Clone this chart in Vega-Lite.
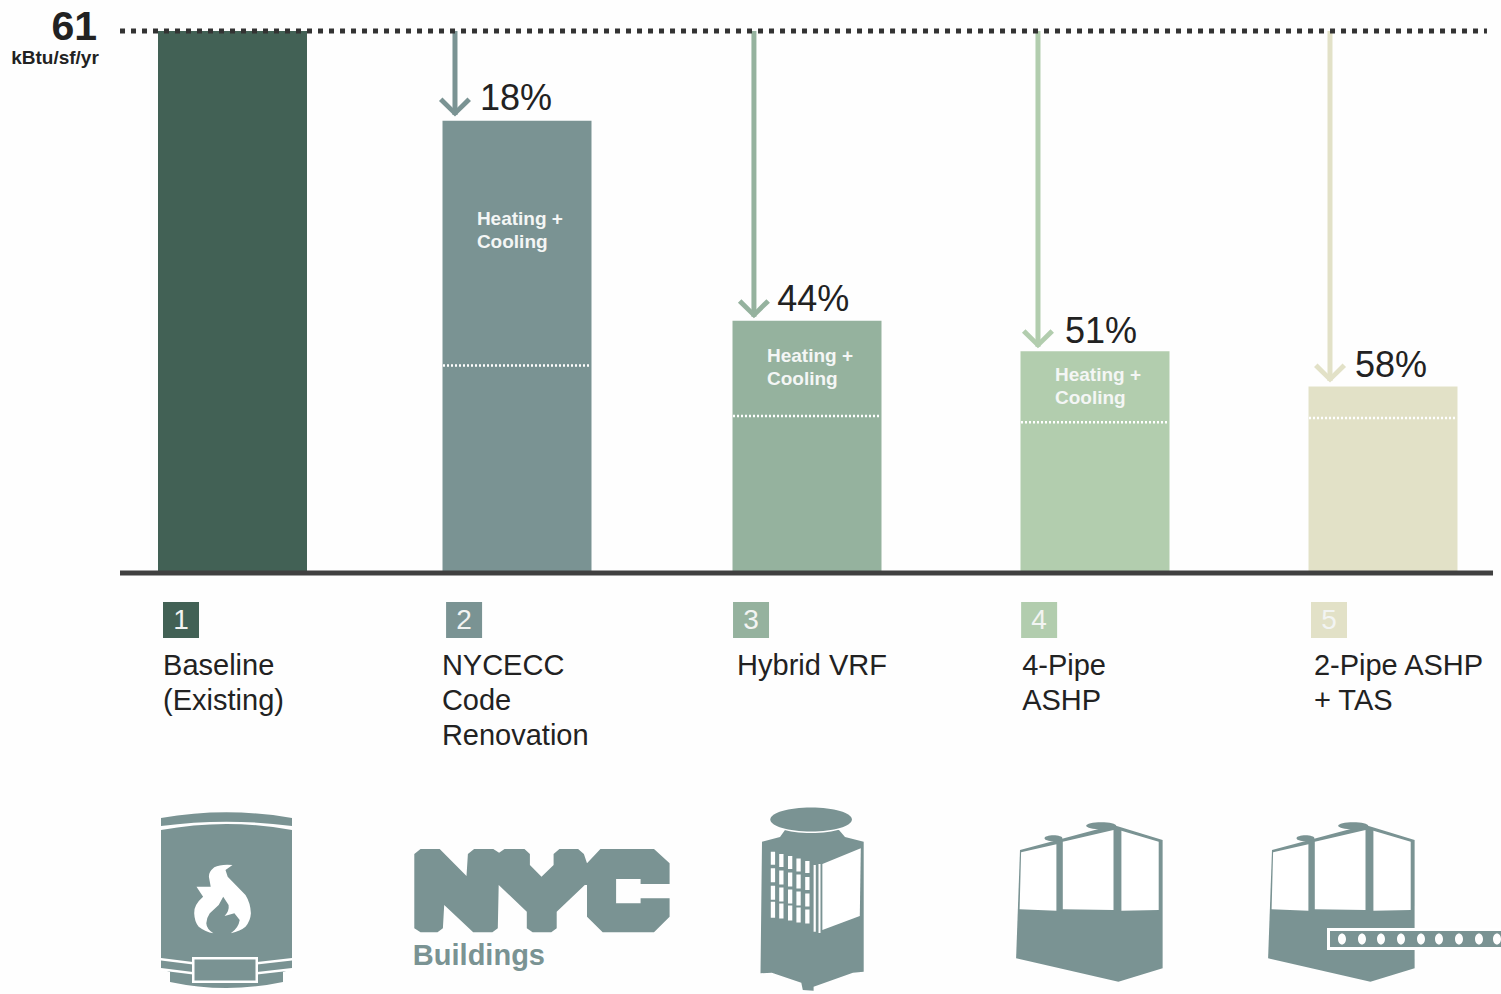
{
"$schema":"https://vega.github.io/schema/vega-lite/v6.json",
"width":1501,"height":994,"padding":0,"autosize":{"type":"none"},"background":"#fefefe",
"config":{"view":{"stroke":null},"font":"Liberation Sans","axis":{"disable":true},"legend":{"disable":true}},
"datasets":{
"options":[
{"option":1,"name":"Baseline\n(Existing)","eui":61,"name_at":0.756,"badge_at":0.819},
{"option":2,"name":"NYCECC\nCode\nRenovation","eui":50.9,"name_at":1.736,"badge_at":1.814},
{"option":3,"name":"Hybrid VRF","eui":28.4,"name_at":2.759,"badge_at":2.807},
{"option":4,"name":"4-Pipe\nASHP","eui":24.95,"name_at":3.747,"badge_at":3.806},
{"option":5,"name":"2-Pipe ASHP\n+ TAS","eui":21,"name_at":4.76,"badge_at":4.8125}
],
"savings":[
{"option":2,"label":"18%","arrow_at":1.782,"arrow_tip":51.55,"label_at":1.87,"label_height":52.1},
{"option":3,"label":"44%","arrow_at":2.817,"arrow_tip":28.85,"label_at":2.897,"label_height":29.5},
{"option":4,"label":"51%","arrow_at":3.802,"arrow_tip":25.47,"label_at":3.896,"label_height":25.9},
{"option":5,"label":"58%","arrow_at":4.816,"arrow_tip":21.6,"label_at":4.903,"label_height":22.06}
],
"split":[
{"option":2,"heating_cooling":23.35},
{"option":3,"heating_cooling":17.67},
{"option":4,"heating_cooling":16.96},
{"option":5,"heating_cooling":17.44}
],
"heat":[
{"label":"Heating +\nCooling","label_at":1.859,"label_height":39.2},
{"label":"Heating +\nCooling","label_at":2.862,"label_height":23.8},
{"label":"Heating +\nCooling","label_at":3.861,"label_height":21.6}
],
"reference":[{"level":61,"from":0.6046,"to":5.361,"value":"61","unit":"kBtu/sf/yr","base":0,"base_to":5.382}],
"icons":[
{"at":1,"level":-36.8,"part":"boiler_body","tone":"teal"},
{"at":1,"level":-36.8,"part":"boiler_cap","tone":"teal"},
{"at":1,"level":-36.8,"part":"boiler_bands","tone":"white"},
{"at":1,"level":-36.8,"part":"boiler_plate_outer","tone":"white"},
{"at":1,"level":-36.8,"part":"boiler_plate_inner","tone":"teal"},
{"at":1,"level":-36.8,"part":"flame","tone":"white"},
{"at":2,"level":-36.8,"part":"nyc","tone":"teal"},
{"at":3,"level":-36.8,"part":"tower_body","tone":"teal"},
{"at":3,"level":-36.8,"part":"tower_ring","tone":"white"},
{"at":3,"level":-36.8,"part":"tower_top","tone":"teal"},
{"at":3,"level":-36.8,"part":"tower_window","tone":"white"},
{"at":3,"level":-36.8,"part":"tower_vents","tone":"white"},
{"at":4,"level":-36.8,"part":"unit_body","tone":"teal"},
{"at":4,"level":-36.8,"part":"unit_fans","tone":"teal"},
{"at":4,"level":-36.8,"part":"unit_panels","tone":"white"},
{"at":4.875,"level":-36.8,"part":"unit_body","tone":"teal"},
{"at":4.875,"level":-36.8,"part":"unit_fans","tone":"teal"},
{"at":4.875,"level":-36.8,"part":"unit_panels","tone":"white"},
{"at":4.875,"level":-36.8,"part":"tas_outer","tone":"white"},
{"at":4.875,"level":-36.8,"part":"tas_inner","tone":"teal"},
{"at":4.875,"level":-36.8,"part":"tas_dots","tone":"white"}
]
},
"layer":[
{"data":{"name":"options"},
 "mark":{"type":"bar","width":149,"orient":"vertical"},
 "encoding":{
  "x":{"field":"option","type":"quantitative","scale":{"type":"linear","domain":[1,2,3,4,5],"range":[232.5,517,807,1095,1383],"nice":false,"zero":false,"padding":0}},
  "y":{"field":"eui","type":"quantitative","stack":null,"scale":{"type":"linear","domain":[-47.38,64.49],"range":[994,0],"nice":false,"zero":false,"padding":0}},
  "y2":{"datum":0},
  "color":{"field":"option","type":"nominal","legend":null,"scale":{"domain":[1,2,3,4,5],"range":["#426155","#7a9393","#95b29e","#b2cdae","#e2e1c7"]}}
 }},
{"data":{"name":"split"},
 "mark":{"type":"rule","xOffset":-74,"x2Offset":74,"stroke":"#ffffff","strokeWidth":2.5,"strokeDash":[2,2]},
 "encoding":{"x":{"field":"option","type":"quantitative"},"x2":{"field":"option"},"y":{"field":"heating_cooling","type":"quantitative"}}},
{"data":{"name":"heat"},
 "mark":{"type":"text","align":"left","baseline":"alphabetic","fontSize":19,"fontWeight":"bold","lineBreak":"\n","lineHeight":23,"fill":"#f4f6f5"},
 "encoding":{"x":{"field":"label_at","type":"quantitative"},"y":{"field":"label_height","type":"quantitative"},"text":{"field":"label"}}},
{"data":{"name":"savings"},
 "mark":{"type":"rule","strokeWidth":5},
 "encoding":{"x":{"field":"arrow_at","type":"quantitative"},"y":{"field":"arrow_tip","type":"quantitative"},"y2":{"datum":61},
  "color":{"field":"option","type":"nominal","legend":null}}},
{"data":{"name":"savings"},
 "mark":{"type":"point","filled":true,"opacity":1,"size":4,"strokeWidth":0,"shape":"M0 1.5 L-16 -14 L-12.5 -17.5 L0 -5 L12.5 -17.5 L16 -14 Z"},
 "encoding":{"x":{"field":"arrow_at","type":"quantitative"},"y":{"field":"arrow_tip","type":"quantitative"},
  "color":{"field":"option","type":"nominal","legend":null}}},
{"data":{"name":"savings"},
 "mark":{"type":"text","align":"left","baseline":"alphabetic","fontSize":36,"fill":"#222222"},
 "encoding":{"x":{"field":"label_at","type":"quantitative"},"y":{"field":"label_height","type":"quantitative"},"text":{"field":"label"}}},
{"data":{"name":"reference"},
 "mark":{"type":"rule","stroke":"#333333","strokeWidth":5,"strokeDash":[5,6]},
 "encoding":{"x":{"field":"from","type":"quantitative"},"x2":{"field":"to"},"y":{"field":"level","type":"quantitative"}}},
{"data":{"name":"reference"},
 "mark":{"type":"rule","stroke":"#404040","strokeWidth":5},
 "encoding":{"x":{"field":"from","type":"quantitative"},"x2":{"field":"base_to"},"y":{"field":"base","type":"quantitative"}}},
{"data":{"values":[{"value":"61","at":0.524,"height":59.99}]},
 "mark":{"type":"text","align":"right","baseline":"alphabetic","fontSize":41,"fontWeight":"bold","fill":"#222222"},
 "encoding":{"x":{"field":"at","type":"quantitative"},"y":{"field":"height","type":"quantitative"},"text":{"field":"value"}}},
{"data":{"values":[{"unit":"kBtu/sf/yr","at":0.376,"height":57.29}]},
 "mark":{"type":"text","align":"center","baseline":"alphabetic","fontSize":19,"fontWeight":"bold","fill":"#222222"},
 "encoding":{"x":{"field":"at","type":"quantitative"},"y":{"field":"height","type":"quantitative"},"text":{"field":"unit"}}},
{"data":{"name":"options"},
 "mark":{"type":"point","shape":"square","filled":true,"opacity":1,"size":1296,"strokeWidth":0},
 "encoding":{"x":{"field":"badge_at","type":"quantitative"},"y":{"datum":-5.29,"type":"quantitative"},
  "color":{"field":"option","type":"nominal","legend":null}}},
{"data":{"name":"options"},
 "mark":{"type":"text","align":"center","baseline":"middle","dy":1,"fontSize":28,"fill":"#f2f4f2"},
 "encoding":{"x":{"field":"badge_at","type":"quantitative"},"y":{"datum":-5.29,"type":"quantitative"},"text":{"field":"option"}}},
{"data":{"name":"options"},
 "mark":{"type":"text","align":"left","baseline":"alphabetic","fontSize":29,"lineBreak":"\n","lineHeight":35,"fill":"#222222"},
 "encoding":{"x":{"field":"name_at","type":"quantitative"},"y":{"datum":-11.48,"type":"quantitative"},"text":{"field":"name"}}},
{"data":{"name":"icons"},
 "mark":{"type":"point","filled":true,"opacity":1,"size":4,"strokeWidth":0},
 "encoding":{
  "x":{"field":"at","type":"quantitative"},
  "y":{"field":"level","type":"quantitative"},
  "fill":{"field":"tone","type":"nominal","legend":null,"scale":{"domain":["teal","white"],"range":["#7a9393","#ffffff"]}},
  "shape":{"field":"part","type":"nominal","legend":null,"scale":{
   "domain":["boiler_body","boiler_cap","boiler_bands","boiler_plate_outer","boiler_plate_inner","flame","nyc","tower_body","tower_ring","tower_top","tower_window","tower_vents","unit_body","unit_fans","unit_panels","tas_outer","tas_inner","tas_dots"],
   "range":[
   "M-71.5 -70 Q-6 -82 59.5 -70 L59.5 69 L50.5 72 L50.5 82 Q-6 94 -62.5 82 L-62.5 72 L-71.5 69 Z",
   "M-71.5 -82 Q-6 -93.4 59.5 -82 L59.5 -74 Q-6 -82.6 -71.5 -74 Z",
   "M-71.5 58 L-39.5 62 L-39.5 64.5 L-71.5 60.5 Z M59.5 58 L24.5 62 L24.5 64.5 L59.5 60.5 Z M-71.5 68 L-39.5 72 L-39.5 74.5 L-71.5 70.5 Z M59.5 68 L24.5 72 L24.5 74.5 L59.5 70.5 Z",
   "M-40.5 57 H25.5 V83 H-40.5 Z",
   "M-38 59.5 H23 V80.5 H-38 Z",
   "M0 -35 Q-12 -36 -18.2 -32.7 Q-24 -28 -23.6 -23.3 L-21.8 -13.3 L-36 -13.3 L-29.4 -3.3 Q-39 5 -38.3 13.3 Q-38 22 -33.8 26.7 Q-27 32 -19.1 33.3 Q-26 29 -26.2 23.3 Q-26 18 -22.7 13.3 L-13.8 5 L-9.3 -3.3 L-3.9 5 Q-3 11 -7.9 16 L1.9 13.3 L7.2 20 Q6 28 -1.7 33.3 Q8 31 13 26.7 Q18 21 18.4 13.3 Q18 3 13 -5 L-4.8 -23.3 L-7 -30 Z",
   "M-102.7 -46 L-96.5 -51 L-77.3 -51 L-50.5 -24 L-49.1 -46 L-42.9 -51 L-23.7 -51 L-17.9 -47.3 L-12.5 -51 L7.5 -51 L12.9 -46 L12.9 -35 L24.5 -23.3 L36.6 -35 L36.6 -46 L42.4 -51 L61.1 -51 L66.9 -46 L70 -36.7 L83.4 -51 L137 -51 L152.6 -36.7 L152.6 -16 L123.6 -16 L123.6 -21 L99.1 -21 L99.1 3.3 L123.6 3.3 L123.6 -1.7 L152.6 -1.7 L152.6 16.7 L137 32.3 L85.7 32.3 L70 16.7 L70 -15 L67.8 -15 L39.7 11.7 L39.7 28.3 L34.3 32.3 L15.6 32.3 L9.8 28.3 L9.8 11.7 L-18.3 -15 L-19.2 28.3 L-24.6 32.3 L-43.8 32.3 L-72.8 5 L-74.1 28.3 L-79.5 32.3 L-96.5 32.3 L-102.7 28.3 Z",
   "M-45 -58.3 L-27 -63 L-22 -70 L32 -70 L38 -63 L56.7 -58.3 L56.7 71.7 L45.9 72.7 L6.6 86.7 L6.6 90.7 L-4.2 90 L-5.7 82.7 L-35.2 72.7 L-46.5 73.3 Z",
   "M-37.9 -80 A42 13 0 1 1 46.1 -80 A42 13 0 1 1 -37.9 -80 Z",
   "M-36.7 -80.5 A40.8 12 0 1 1 44.9 -80.5 A40.8 12 0 1 1 -36.7 -80.5 Z",
   "M15.4 -36 L53.8 -51.7 L52.8 16 L15.4 30 Z",
   "M-36.2 -48.3 h4.3 v13 h-4.3 Z M-36.2 -31.7 h4.3 v14 h-4.3 Z M-36.2 -14.3 h4.3 v14 h-4.3 Z M-36.2 1.7 h4.3 v16 h-4.3 Z M-27.8 -46 h4.3 v13 h-4.3 Z M-27.8 -29.5 h4.3 v14 h-4.3 Z M-27.8 -12.5 h4.3 v14 h-4.3 Z M-27.8 3.5 h4.3 v15 h-4.3 Z M-19 -44 h4.3 v13 h-4.3 Z M-19 -27.5 h4.3 v14 h-4.3 Z M-19 -10.5 h4.3 v14 h-4.3 Z M-19 5.5 h4.3 v15 h-4.3 Z M-10.6 -41.5 h4.3 v13 h-4.3 Z M-10.6 -25.5 h4.3 v14 h-4.3 Z M-10.6 -8.5 h4.3 v14 h-4.3 Z M-10.6 7.5 h4.3 v15 h-4.3 Z M-1.8 -39 h4.3 v12 h-4.3 Z M-1.8 -23 h4.3 v13 h-4.3 Z M-1.8 -6.5 h4.3 v13 h-4.3 Z M-1.8 9.5 h4.3 v14 h-4.3 Z M6.6 -35 h2.2 v66.7 h-2.2 Z M11.5 -36 h2 v69 h-2 Z",
   "M-75 -50 L18.5 -75 L67.6 -60 L67.6 68.3 L23.4 81.7 L-78.9 58.3 Z",
   "M-8.8 -74.3 A15 3.5 0 1 1 21.2 -74.3 A15 3.5 0 1 1 -8.8 -74.3 Z M-50.5 -61.7 A9 3 0 1 1 -32.5 -61.7 A9 3 0 1 1 -50.5 -61.7 Z",
   "M-73.9 -47.7 L-38.6 -55.7 L-38.6 10.7 L-75.4 9.3 Z M-32.2 -58.3 L18.5 -70 L18.5 10 L-32.2 9.3 Z M26.4 -69.3 L63.7 -58.3 L63.7 10 L26.4 10.7 Z",
   "M-20 28 H154 V50 H-20 Z",
   "M-17 31 H154 V47 H-17 Z",
   "M-9 39 A4 5.5 0 1 1 -1 39 A4 5.5 0 1 1 -9 39 Z M11 39 A4 5.5 0 1 1 19 39 A4 5.5 0 1 1 11 39 Z M30 39 A4 5.5 0 1 1 38 39 A4 5.5 0 1 1 30 39 Z M50 39 A4 5.5 0 1 1 58 39 A4 5.5 0 1 1 50 39 Z M70 39 A4 5.5 0 1 1 78 39 A4 5.5 0 1 1 70 39 Z M88 39 A4 5.5 0 1 1 96 39 A4 5.5 0 1 1 88 39 Z M108 39 A4 5.5 0 1 1 116 39 A4 5.5 0 1 1 108 39 Z M128 39 A4 5.5 0 1 1 136 39 A4 5.5 0 1 1 128 39 Z M146 39 A4 5.5 0 1 1 154 39 A4 5.5 0 1 1 146 39 Z"
   ]}}
 }},
{"data":{"values":[{"label":"Buildings","at":1.634,"height":-44.1}]},
 "mark":{"type":"text","align":"left","baseline":"alphabetic","fontSize":29,"fontWeight":"bold","fill":"#7a9393"},
 "encoding":{"x":{"field":"at","type":"quantitative"},"y":{"field":"height","type":"quantitative"},"text":{"field":"label"}}}
]
}
